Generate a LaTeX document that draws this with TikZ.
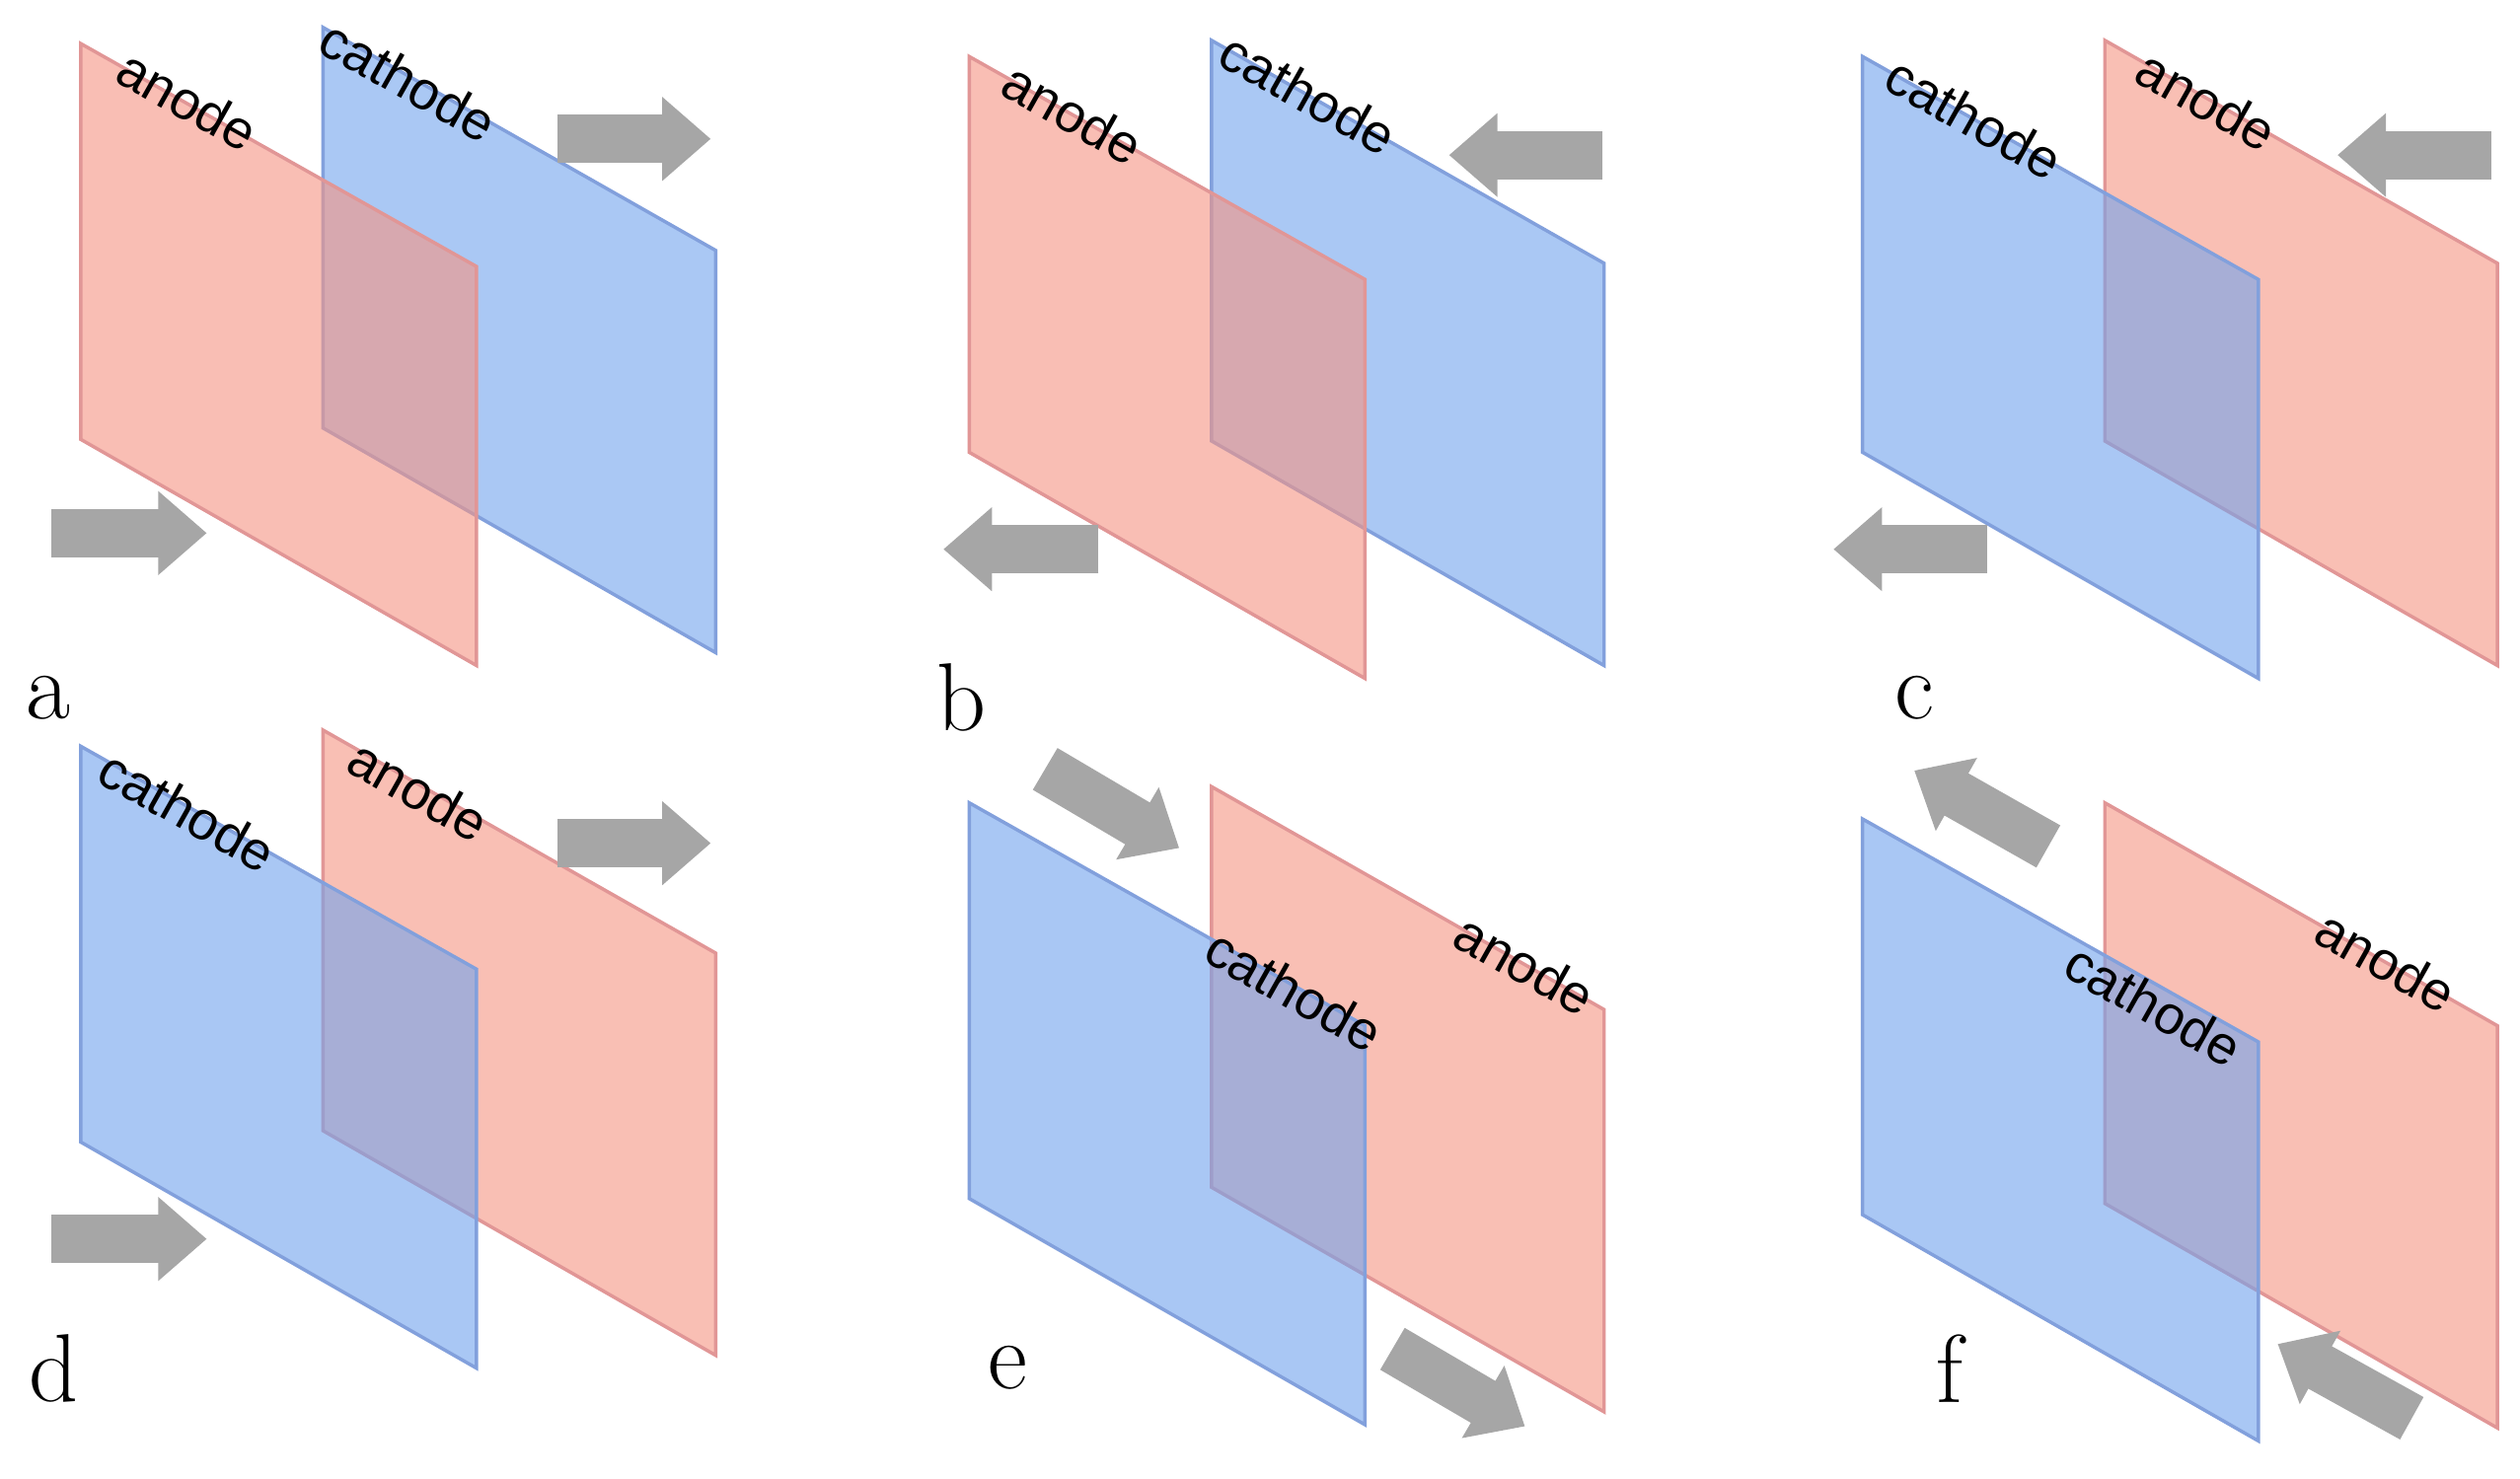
\documentclass[tikz,border=0pt]{standalone}
\usepackage{fontspec}
\newfontfamily\lab{Liberation Sans}
\usetikzlibrary{arrows.meta}
\definecolor{rb}{RGB}{249,191,180}
\definecolor{rf}{RGB}{245,148,130}
\definecolor{bb}{RGB}{170,200,244}
\definecolor{bf}{RGB}{113,163,237}
\definecolor{re}{RGB}{225,150,150}
\definecolor{be}{RGB}{130,160,220}
\definecolor{ga}{RGB}{166,166,166}
\tikzset{
 back/.style={line width=0.6pt},
 front/.style={fill opacity=0.6,line width=0.6pt},
 lbl/.style={font=\lab\fontsize{9.5pt}{10pt}\selectfont,rotate=-29.4,inner sep=0},
 let/.style={font=\fontsize{17pt}{18pt}\selectfont,inner sep=0},
 barr/.style={ga,line width=0.3cm,-{Triangle[width=0.5cm,length=0.3cm]}}
}
\newcommand\pnl[4]{%
 \begin{scope}[shift={(#1,#2)}]
 \path[back,fill=#4b,draw=#4e] (150,-10)--(393,128)--(393,377)--(150,238)--cycle;
 \path[front,fill=#3f,draw=#3e] (0,0)--(245,138)--(245,385)--(0,245)--cycle;
 \end{scope}}
\begin{document}
\begin{tikzpicture}[x=0.01cm,y=-0.01cm]
\useasboundingbox[fill=white] (0,0) rectangle (1560,915.6);
\pnl{50}{27}{r}{b}
\pnl{600}{35}{r}{b}
\pnl{1153}{35}{b}{r}
\pnl{50}{462}{b}{r}
\pnl{600}{497}{b}{r}
\pnl{1153}{507}{b}{r}
\node[lbl] (la1) at (116,62) {anode};
\node[lbl] (la2) at (253,50) {cathode};
\node[lbl] (lb1) at (664,70) {anode};
\node[lbl] (lb2) at (810,58) {cathode};
\node[lbl] (lc1) at (1222,73) {cathode};
\node[lbl] (lc2) at (1366,62) {anode};
\node[lbl] (ld1) at (116,502) {cathode};
\node[lbl] (ld2) at (259,489) {anode};
\node[lbl] (le1) at (801,613) {cathode};
\node[lbl] (le2) at (944,597) {anode};
\node[lbl] (lf1) at (1333,622) {cathode};
\node[lbl] (lf2) at (1477,595) {anode};
\node[let] (ta) at (30,432) {a};
\node[let] (tb) at (595,432) {b};
\node[let] (tc) at (1185,432) {c};
\node[let] (td) at (33,847) {d};
\node[let] (te) at (624,847) {e};
\node[let] (tf) at (1207,847) {f};
\coordinate (a1s) at (32,330); \coordinate (a1e) at (128,330);
\coordinate (a2s) at (345,86); \coordinate (a2e) at (440,86);
\coordinate (b1s) at (680,340); \coordinate (b1e) at (584,340);
\coordinate (b2s) at (992,96); \coordinate (b2e) at (897,96);
\coordinate (c1s) at (1230,340); \coordinate (c1e) at (1135,340);
\coordinate (c2s) at (1542,96); \coordinate (c2e) at (1447,96);
\coordinate (d1s) at (32,767); \coordinate (d1e) at (128,767);
\coordinate (d2s) at (345,522); \coordinate (d2e) at (440,522);
\coordinate (e1s) at (647,476); \coordinate (e1e) at (730,525);
\coordinate (e2s) at (862,835); \coordinate (e2e) at (944,883);
\coordinate (f1s) at (1268,524); \coordinate (f1e) at (1185,477);
\coordinate (f2s) at (1493,878); \coordinate (f2e) at (1410,832);
\foreach \n in {a1,a2,b1,b2,c1,c2,d1,d2,e1,e2,f1,f2}
  \draw[barr] (\n s) -- (\n e);
\end{tikzpicture}
\end{document}
